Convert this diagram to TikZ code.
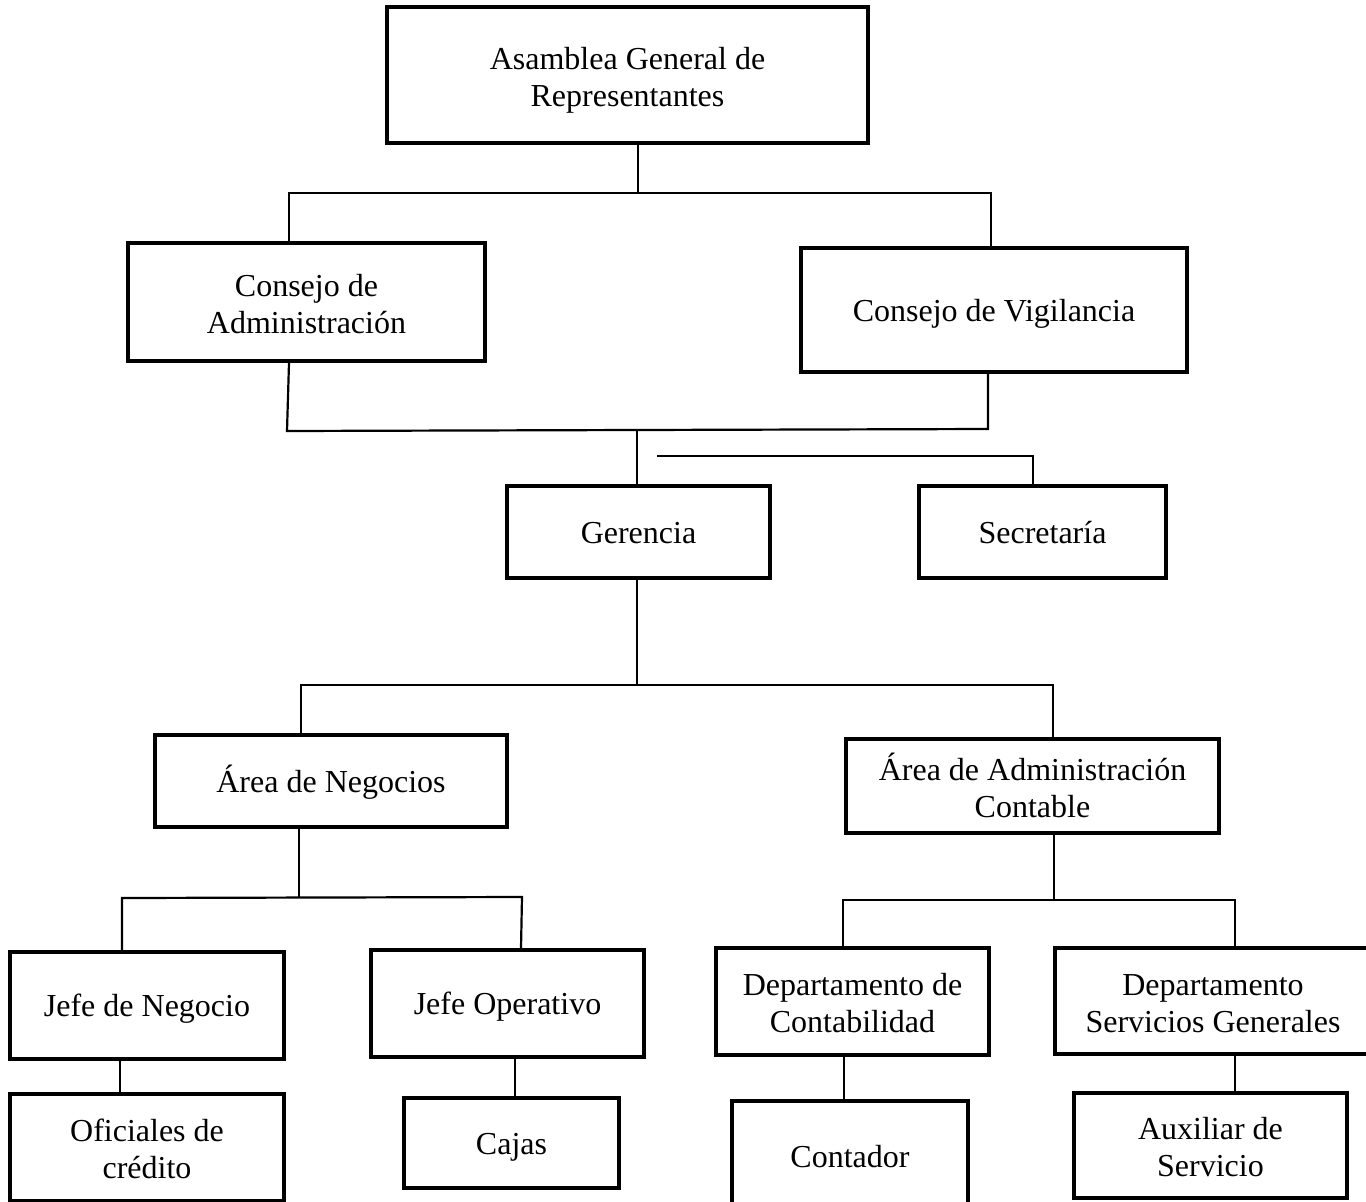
\documentclass[tikz,border=0pt]{standalone}
\usepackage{fontspec}
\setmainfont{Liberation Serif}
\begin{document}
\begin{tikzpicture}[x=1pt,y=-1pt,
  orgbox/.style={draw,line width=3.6pt,rectangle,inner sep=0pt,align=center,
    font=\fontsize{32}{37}\selectfont},
  oneline/.style={orgbox,text height=27pt,text depth=5pt},
  twoline/.style={orgbox,text height=65pt,text depth=3pt},
  link/.style={line width=2.2pt}]
\useasboundingbox[fill=white] (0,0) rectangle (1366,1202);
% boxes
\node[twoline,minimum width=481,minimum height=136] (asam) at (627.5,75) {Asamblea General de\\Representantes};
\node[twoline,minimum width=357,minimum height=118] (cadm) at (306.5,302) {Consejo de\\Administración};
\node[oneline,minimum width=386,minimum height=124] (cvig) at (994,310) {Consejo de Vigilancia};
\node[oneline,minimum width=263,minimum height=92] (ger) at (638.5,532) {Gerencia};
\node[oneline,minimum width=247,minimum height=92] (sec) at (1042.5,532) {Secretaría};
\node[oneline,minimum width=352,minimum height=92] (aneg) at (331,781) {Área de Negocios};
\node[twoline,minimum width=373,minimum height=94] (aadm) at (1032.5,786) {Área de Administración\\Contable};
\node[oneline,minimum width=274,minimum height=107] (jneg) at (147,1005.5) {Jefe de Negocio};
\node[oneline,minimum width=273,minimum height=107] (jop) at (507.5,1003.5) {Jefe Operativo};
\node[twoline,minimum width=273,minimum height=107] (dcont) at (852.5,1001.5) {Departamento de\\Contabilidad};
\node[twoline,minimum width=316,minimum height=106] (dserv) at (1213,1001) {Departamento\\Servicios Generales};
\node[twoline,minimum width=274,minimum height=107] (ofic) at (147,1147.5) {Oficiales de\\crédito};
\node[oneline,minimum width=215,minimum height=90] (cajas) at (511.5,1143) {Cajas};
\node[oneline,minimum width=236,minimum height=110] (cont) at (850,1156) {Contador};
\node[twoline,minimum width=273,minimum height=105] (aux) at (1210.5,1145.5) {Auxiliar de\\Servicio};
% junction coordinates
\coordinate (j1) at (638,193);
\coordinate (h1l) at (289,193);
\coordinate (h1r) at (991,193);
\coordinate (h2l) at (287,431);
\coordinate (h2r) at (988,429);
\coordinate (j2) at (637,430);
\coordinate (s0) at (657,456);
\coordinate (s1) at (1033,456);
\coordinate (j3) at (637,685);
\coordinate (h3l) at (301,685);
\coordinate (h3r) at (1053,685);
\coordinate (j4) at (299,898);
\coordinate (h4l) at (122,898);
\coordinate (h4r) at (522,897);
\coordinate (j5) at (1054,900);
\coordinate (h5l) at (843,900);
\coordinate (h5r) at (1235,900);
% connectors
\draw[link] (asam.south -| j1) -- (j1);
\draw[link] (cadm.north -| h1l) -- (h1l) -- (h1r) -- (cvig.north -| h1r);
\draw[link] (cadm.south -| 289,0) -- (h2l) -- (h2r) -- (cvig.south -| h2r);
\draw[link] (j2) -- (ger.north -| j2);
\draw[link] (s0) -- (s1) -- (sec.north -| s1);
\draw[link] (ger.south -| j3) -- (j3);
\draw[link] (aneg.north -| h3l) -- (h3l) -- (h3r) -- (aadm.north -| h3r);
\draw[link] (aneg.south -| j4) -- (j4);
\draw[link] (jneg.north -| h4l) -- (h4l) -- (h4r) -- (jop.north -| 521,0);
\draw[link] (aadm.south -| j5) -- (j5);
\draw[link] (dcont.north -| h5l) -- (h5l) -- (h5r) -- (dserv.north -| h5r);
\draw[link] (jneg.south -| 120,0) -- (ofic.north -| 120,0);
\draw[link] (jop.south -| 515,0) -- (cajas.north -| 515,0);
\draw[link] (dcont.south -| 844,0) -- (cont.north -| 844,0);
\draw[link] (dserv.south -| 1235,0) -- (aux.north -| 1235,0);
\end{tikzpicture}
\end{document}
